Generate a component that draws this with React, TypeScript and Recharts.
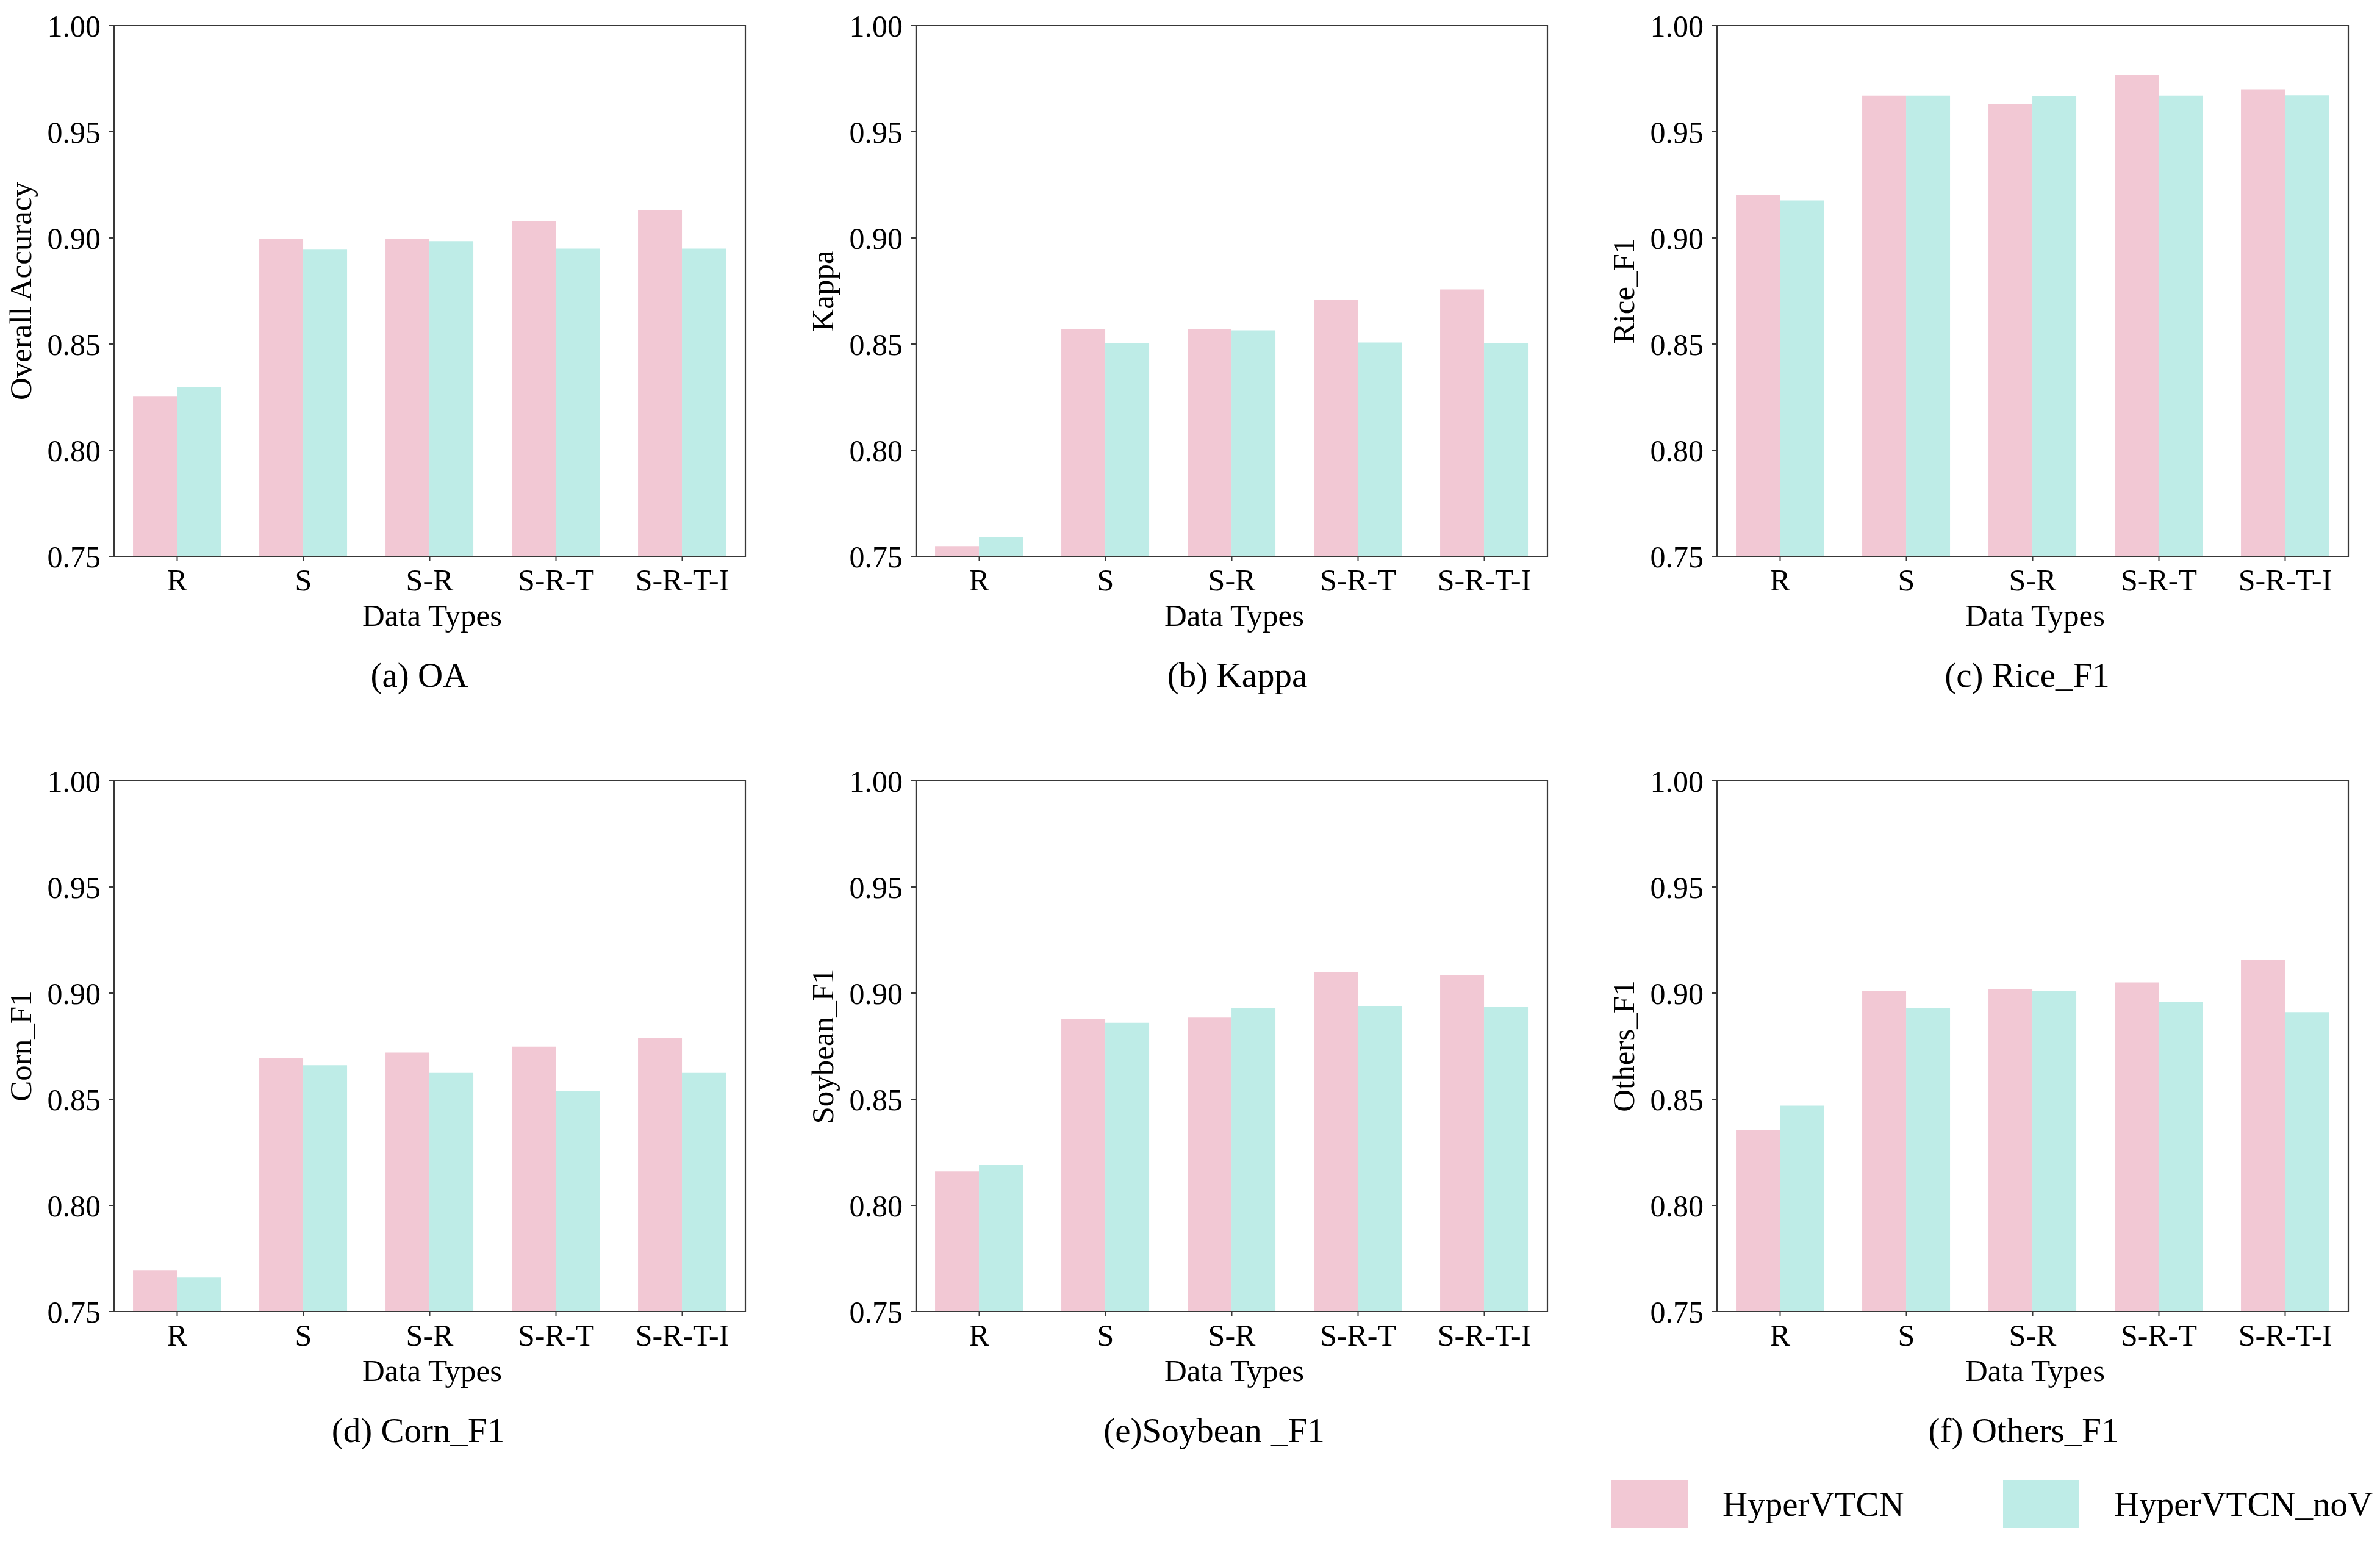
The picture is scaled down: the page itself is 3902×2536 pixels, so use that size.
import React from 'react';
import { BarChart, Bar, XAxis, YAxis, Legend, ReferenceArea } from 'recharts';

const CATEGORIES = ['R', 'S', 'S-R', 'S-R-T', 'S-R-T-I'];
const Y_TICKS = [0.75, 0.8, 0.85, 0.9, 0.95, 1.0];
const SERIES_NAMES = ['HyperVTCN', 'HyperVTCN_noV'];

const OA_HYPER = [0.8255, 0.8995, 0.8995, 0.908, 0.913];
const OA_NOV = [0.8297, 0.8945, 0.8985, 0.895, 0.895];
const KAPPA_HYPER = [0.7548, 0.857, 0.857, 0.871, 0.8757];
const KAPPA_NOV = [0.7592, 0.8505, 0.8565, 0.8507, 0.8505];
const RICE_HYPER = [0.9202, 0.967, 0.963, 0.9767, 0.97];
const RICE_NOV = [0.9177, 0.967, 0.9667, 0.967, 0.9672];
const CORN_HYPER = [0.7695, 0.8695, 0.872, 0.8748, 0.879];
const CORN_NOV = [0.766, 0.866, 0.8624, 0.8538, 0.8624];
const SOY_HYPER = [0.816, 0.8878, 0.8887, 0.91, 0.9084];
const SOY_NOV = [0.819, 0.886, 0.893, 0.894, 0.8935];
const OTH_HYPER = [0.8355, 0.901, 0.902, 0.905, 0.9158];
const OTH_NOV = [0.847, 0.893, 0.901, 0.896, 0.891];

const Y_LABELS = ['Overall Accuracy', 'Kappa', 'Rice_F1', 'Corn_F1', 'Soybean_F1', 'Others_F1'];
const CAPTIONS = ['(a) OA', '(b) Kappa', '(c) Rice_F1', '(d) Corn_F1', '(e)Soybean _F1', '(f) Others_F1'];

const PINK = '#F2C8D4';
const CYAN = '#BEECE7';
const AXIS = '#383838';
const FONT = "'Liberation Serif', 'Times New Roman', Times, serif";

const PLOT_W = 1035;
const PLOT_H = 870;
const Y_AXIS_W = 180;
const M_TOP = 40;
const M_RIGHT = 40;
const X_AXIS_H = 240;

const tickStyle = { fontSize: 50, fill: '#000', fontFamily: FONT };

const makeXLabel = (caption: string, capDx: number) => (props: any) => {
  const vb = props.viewBox || {};
  const cx = vb.x + vb.width / 2;
  return (
    <g>
      <text x={cx + 4} y={vb.y + 114} textAnchor="middle" fontFamily={FONT} fontSize={51} fill="#000">
        Data Types
      </text>
      <text x={cx + capDx} y={vb.y + 214} textAnchor="middle" fontFamily={FONT} fontSize={57} fill="#000">
        {caption}
      </text>
    </g>
  );
};

const makeYLabel = (label: string) => (props: any) => {
  const vb = props.viewBox || {};
  const x = vb.x + 44;
  const y = vb.y + vb.height / 2;
  return (
    <text x={x} y={y} transform={`rotate(-90, ${x}, ${y})`} textAnchor="middle" fontFamily={FONT} fontSize={51} fill="#000">
      {label}
    </text>
  );
};

const renderLegend = (props: any) => {
  const items = props.payload || [];
  return (
    <div style={{ position: 'relative', width: 1260, height: 79 }}>
      {items.map((it: any, i: number) => (
        <div key={i} style={{ position: 'absolute', left: i * 642, top: 0, height: 79, display: 'flex', alignItems: 'center' }}>
          <div style={{ width: 125, height: 79, background: it.color }} />
          <span style={{ marginLeft: 57, fontFamily: FONT, fontSize: 57, color: '#000', whiteSpace: 'nowrap', lineHeight: 1 }}>
            {it.value}
          </span>
        </div>
      ))}
    </div>
  );
};

type PanelProps = {
  left: number;
  top: number;
  hyper: number[];
  nov: number[];
  yLabel: string;
  caption: string;
  capDx: number;
  withLegend?: boolean;
};

function Panel({ left, top, hyper, nov, yLabel, caption, capDx, withLegend }: PanelProps) {
  const data = CATEGORIES.map((c, i) => ({ cat: c, hyper: hyper[i], nov: nov[i] }));
  const extra = withLegend ? 140 : 0;
  const height = M_TOP + PLOT_H + X_AXIS_H + extra;
  return (
    <div style={{ position: 'absolute', left: left - Y_AXIS_W, top: top - M_TOP }}>
      <BarChart
        width={Y_AXIS_W + PLOT_W + M_RIGHT}
        height={height}
        data={data}
        margin={{ top: M_TOP, right: M_RIGHT, bottom: extra, left: 0 }}
        barCategoryGap="15%"
        barGap={0}
      >
        <XAxis
          dataKey="cat"
          height={X_AXIS_H}
          interval={0}
          tickSize={8}
          tickMargin={12}
          tick={tickStyle}
          axisLine={{ stroke: AXIS, strokeWidth: 2.2 }}
          tickLine={{ stroke: AXIS, strokeWidth: 2 }}
          label={makeXLabel(caption, capDx)}
        />
        <YAxis
          type="number"
          domain={[0.75, 1]}
          ticks={Y_TICKS}
          allowDataOverflow
          width={Y_AXIS_W}
          tickSize={8}
          tickMargin={14}
          tick={tickStyle}
          tickFormatter={(v: number) => v.toFixed(2)}
          axisLine={{ stroke: AXIS, strokeWidth: 2.2 }}
          tickLine={{ stroke: AXIS, strokeWidth: 2 }}
          label={makeYLabel(yLabel)}
        />
        <Bar dataKey="hyper" name={SERIES_NAMES[0]} fill={PINK} isAnimationActive={false} />
        <Bar dataKey="nov" name={SERIES_NAMES[1]} fill={CYAN} isAnimationActive={false} />
        <ReferenceArea y1={0.75} y2={1} fill="none" fillOpacity={0} stroke={AXIS} strokeWidth={2.2} ifOverflow="visible" />
        {withLegend ? (
          <Legend
            layout="horizontal"
            align="center"
            verticalAlign="middle"
            content={renderLegend}
            wrapperStyle={{ left: 7, top: PLOT_H + M_TOP + 1186 - 910, width: 1260, height: 79 }}
          />
        ) : null}
      </BarChart>
    </div>
  );
}

const PANEL_LEFTS = [187, 1502, 2815];
const PANEL_TOPS = [42, 1280];
const CAP_DX = [-17, 9, -9, -19, -29, -15];
const HYPER_SETS = [OA_HYPER, KAPPA_HYPER, RICE_HYPER, CORN_HYPER, SOY_HYPER, OTH_HYPER];
const NOV_SETS = [OA_NOV, KAPPA_NOV, RICE_NOV, CORN_NOV, SOY_NOV, OTH_NOV];

export default function App() {
  return (
    <div style={{ position: 'absolute', left: 0, top: 0, width: 3902, height: 2536, background: '#fff', overflow: 'hidden' }}>
      {HYPER_SETS.map((h, i) => (
        <Panel
          key={i}
          left={PANEL_LEFTS[i % 3]}
          top={PANEL_TOPS[Math.floor(i / 3)]}
          hyper={h}
          nov={NOV_SETS[i]}
          yLabel={Y_LABELS[i]}
          caption={CAPTIONS[i]}
          capDx={CAP_DX[i]}
          withLegend={i === 5}
        />
      ))}
    </div>
  );
}
